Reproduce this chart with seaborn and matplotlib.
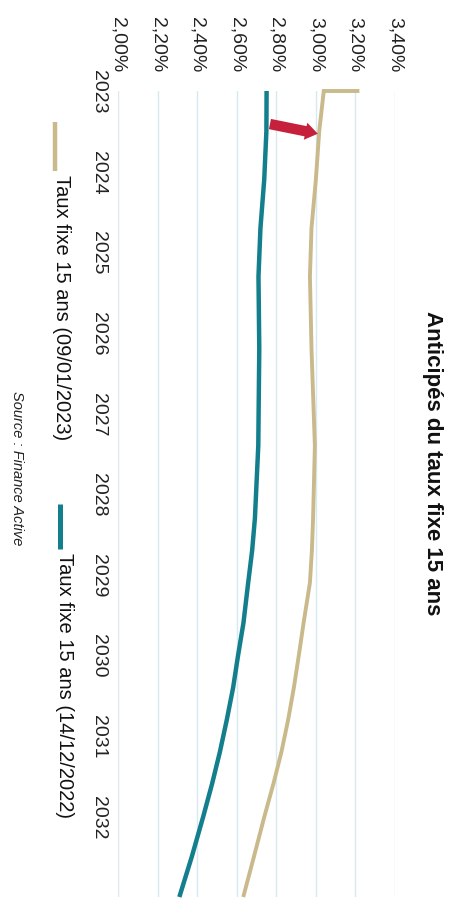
import matplotlib
matplotlib.use("Agg")
import matplotlib.pyplot as plt
from matplotlib.lines import Line2D
from matplotlib.patches import FancyArrowPatch
import seaborn as sns
import pandas as pd

# Figure size in pixels
W, H = 458, 903
DPI = 100

# Axis ticks
years_ticks = [2023, 2024, 2025, 2026, 2027, 2028, 2029, 2030, 2031, 2032]
rate_ticks = [2.0, 2.2, 2.4, 2.6, 2.8, 3.0, 3.2, 3.4]
rate_labels = ["2,00%", "2,20%", "2,40%", "2,60%", "2,80%", "3,00%", "3,20%", "3,40%"]

# Forward curve of the 15-year fixed rate, quoted 14/12/2022
years_dec = [2023.0, 2023.5, 2024.1, 2024.7, 2025.3, 2026.2, 2027.4, 2028.3,
             2028.7, 2029.1, 2029.6, 2030.0, 2030.4, 2030.8, 2031.2, 2031.6,
             2032.0, 2032.5, 2033.0]
rate_dec = [2.751, 2.750, 2.739, 2.720, 2.710, 2.714, 2.709, 2.692,
            2.678, 2.658, 2.634, 2.607, 2.582, 2.550, 2.515, 2.475,
            2.431, 2.373, 2.310]

# Forward curve of the 15-year fixed rate, quoted 09/01/2023
years_jan = [2023.0, 2023.0, 2023.5, 2024.1, 2024.7, 2025.3, 2026.2, 2027.4,
             2028.3, 2028.7, 2029.1, 2029.6, 2030.0, 2030.4, 2030.8, 2031.2,
             2031.6, 2032.0, 2032.5, 2033.0]
rate_jan = [3.22, 3.04, 3.017, 3.000, 2.978, 2.970, 2.978, 2.995,
            2.986, 2.980, 2.970, 2.938, 2.914, 2.889, 2.860, 2.826,
            2.785, 2.740, 2.687, 2.633]

label_jan = "Taux fixe 15 ans (09/01/2023)"
label_dec = "Taux fixe 15 ans (14/12/2022)"
title = "Anticipés du taux fixe 15 ans"
source = "Source : Finance Active"

col_dec = "#137f8d"
col_jan = "#c9b98b"
col_arrow = "#c6203d"
col_grid = "#d8eaf0"

sns.set_theme(style="white")
plt.rcParams["font.family"] = ["Liberation Sans", "DejaVu Sans"]

fig = plt.figure(figsize=(W / DPI, H / DPI), dpi=DPI)
fig.patch.set_facecolor("white")


def box(x0, y0, x1, y1):
    return [x0 / W, 1 - y1 / H, (x1 - x0) / W, (y1 - y0) / H]


def fx(x):
    return x / W


def fy(y):
    return 1 - y / H


ax = fig.add_axes(box(118, 92, 395, 898))
ax.set_facecolor("white")

df_dec = pd.DataFrame({"annee": years_dec, "taux": rate_dec})
df_jan = pd.DataFrame({"annee": years_jan, "taux": rate_jan})

sns.lineplot(data=df_dec, x="taux", y="annee", orient="y", sort=False,
             estimator=None, color=col_dec, lw=3.2, ax=ax, clip_on=False,
             solid_capstyle="butt", solid_joinstyle="round")
sns.lineplot(data=df_jan, x="taux", y="annee", orient="y", sort=False,
             estimator=None, color=col_jan, lw=2.8, ax=ax, clip_on=False,
             solid_capstyle="butt", solid_joinstyle="miter")

ax.set_xlim(2.0, 3.4)
ax.set_ylim(2033.0, 2023.0)

ax.xaxis.tick_top()
ax.set_xticks(rate_ticks)
ax.set_xticklabels(rate_labels, rotation=270, fontsize=14, color="#222222",
                   ha="center", va="bottom")
ax.set_yticks(years_ticks)
ax.set_yticklabels([str(y) for y in years_ticks], rotation=270, fontsize=14,
                   color="#222222", ha="right", va="center")
ax.tick_params(axis="x", length=0, pad=14)
ax.tick_params(axis="y", length=0, pad=8)
ax.set_xlabel("")
ax.set_ylabel("")

ax.xaxis.grid(True, color=col_grid, lw=1.0)
ax.yaxis.grid(False)
ax.set_axisbelow(True)
for s in ax.spines.values():
    s.set_visible(False)

# Arrow pointing from the December curve to the January curve
arrow = FancyArrowPatch((2.768, 2023.41), (3.01, 2023.53),
                        arrowstyle="simple,head_width=1.25,head_length=0.9,tail_width=0.75",
                        mutation_scale=10, color=col_arrow, lw=0,
                        shrinkA=0, shrinkB=0, zorder=5)
ax.add_patch(arrow)

# Legend, drawn vertically along the left edge
fig.add_artist(Line2D([fx(55), fx(55)], [fy(123), fy(172)],
                      transform=fig.transFigure, color=col_jan, lw=3.2,
                      solid_capstyle="butt"))
fig.text(fx(61), fy(175), label_jan, rotation=270, fontsize=14.5,
         color="#111111", ha="center", va="top")
fig.add_artist(Line2D([fx(60), fx(60)], [fy(505), fy(550)],
                      transform=fig.transFigure, color=col_dec, lw=3.6,
                      solid_capstyle="butt"))
fig.text(fx(64), fy(553), label_dec, rotation=270, fontsize=14.5,
         color="#111111", ha="center", va="top")

# Title and source
fig.text(fx(433), fy(463), title, rotation=270, fontsize=16, fontweight="bold",
         color="#111111", ha="center", va="center")
fig.text(fx(17), fy(468), source, rotation=270, fontsize=10.5, style="italic",
         color="#222222", ha="center", va="center")

fig.savefig("out.png", dpi=DPI, facecolor="white")
